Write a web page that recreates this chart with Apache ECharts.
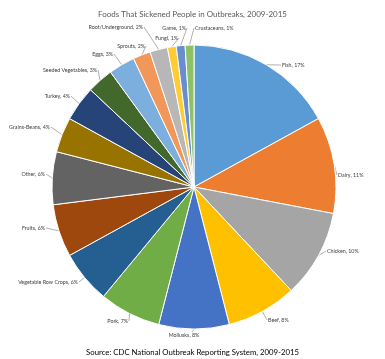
<!DOCTYPE html>
<html><head><meta charset="utf-8">
<script src="https://cdn.jsdelivr.net/npm/echarts@6/dist/echarts.min.js"></script>
<style>html,body{margin:0;padding:0;background:#fff}#c{width:385px;height:359px}</style>
</head><body><div id="c"></div>
<script>
const categories = ["Fish","Dairy","Chicken","Beef","Mollusks","Pork","Vegetable Row Crops","Fruits","Other","Grains-Beans","Turkey","Seeded Vegetables","Eggs","Sprouts","Root/Underground","Fungi","Game","Crustaceans"];
const values = [17,11,10,8,8,7,6,6,6,4,4,3,3,2,2,1,1,1];
const colors = ["#5B9BD5","#ED7D31","#A5A5A5","#FFC000","#4472C4","#70AD47","#255E91","#9E480E","#636363","#997300","#264478","#43682B","#7CAFDD","#F1975A","#B7B7B7","#FFCD33","#698ED0","#8CC168"];
const titleText = 'Foods That Sickened People in Outbreaks, 2009-2015';
const sourceText = 'Source: CDC National Outbreak Reporting System, 2009-2015';

// label placement (text anchor x, y, align) — layout only
const labelPlace = [
  [282,65,'left'],[338,175,'left'],[327,251,'left'],[268,320,'left'],[184,335,'center'],
  [128,321,'right'],[78,282,'right'],[45,228,'right'],[45,174,'right'],[50,127,'right'],
  [70,96,'right'],[97,70,'right'],[113,54,'right'],[145,46,'right'],[143,27,'right'],
  [178,38,'right'],[186,28,'right'],[195,28,'left']
];

const FONT = 'Lato';
const ctx = document.createElement('canvas').getContext('2d');
function fitSize(text, target){ ctx.font = '20px ' + FONT; return 20 * target / ctx.measureText(text).width; }
const titleSize = fitSize(titleText, 189);
const sourceSize = fitSize(sourceText, 213);
const labelSize = fitSize('Vegetable Row Crops, 6%', 60);

const chart = echarts.init(document.getElementById('c'));
chart.setOption({
  backgroundColor:'#fff',
  animation:false,
  title:[{text:titleText,left:'center',top:4,
    textStyle:{fontFamily:FONT,fontSize:titleSize,fontWeight:'normal',color:'#595959',lineHeight:titleSize+2}},
    {text:sourceText,left:'center',top:343,
    textStyle:{fontFamily:FONT,fontSize:sourceSize,fontWeight:'normal',color:'#000',lineHeight:sourceSize+2}}],
  series:[{type:'pie',center:[194,187],radius:142,startAngle:90,clockwise:true,
    avoidLabelOverlap:false,
    data:categories.map((n,i)=>({name:n,value:values[i],itemStyle:{color:colors[i]}})),
    itemStyle:{borderColor:'#fff',borderWidth:1},
    label:{show:true,formatter:p=>p.name+', '+p.value+'%',fontFamily:FONT,fontSize:labelSize,color:'#404040',overflow:'none'},
    labelLine:{show:true,length:4,length2:4,lineStyle:{color:'#B0B0B0',width:1}},
    labelLayout:function(params){
      const pl = labelPlace[params.dataIndex];
      const w = params.labelRect.width;
      const p0 = params.labelLinePoints ? params.labelLinePoints[0] : null;
      let ex = pl[2]==='left' ? pl[0]-1 : (pl[2]==='right' ? pl[0]+1 : pl[0]);
      let ey = pl[1];
      const out = {x: pl[2]==='left'?pl[0]:(pl[2]==='right'?pl[0]-w:pl[0]-w/2), y: pl[1], align:'left', verticalAlign:'middle'};
      if (p0) {
        if (pl[2]==='center') { ey = pl[1]-3; ex = p0[0]-2; }
        out.labelLinePoints = [p0, [ex, ey]];
      }
      return out;
    }
  }]
});
</script></body></html>
